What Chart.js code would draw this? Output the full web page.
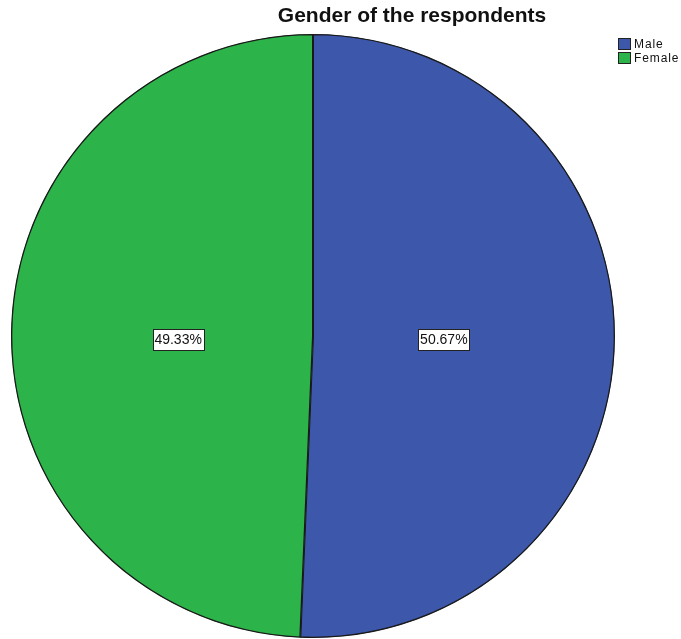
<!DOCTYPE html>
<html>
<head>
<meta charset="utf-8">
<script src="https://cdn.jsdelivr.net/npm/chart.js@4.4.1/dist/chart.umd.min.js"></script>
<style>
html,body{margin:0;padding:0;background:#fff;}
#wrap{position:relative;width:681px;height:639px;}
#title{position:absolute;left:0;top:3px;width:824px;text-align:center;font:bold 21px "Liberation Sans",Arial,sans-serif;color:#111;}
#legend{position:absolute;left:618px;top:37px;font:12px "Liberation Sans",Arial,sans-serif;letter-spacing:0.9px;color:#111;}
.item{display:flex;align-items:center;height:14px;}
.sw{width:11px;height:10px;border:1px solid #222;margin-right:3px;}
</style>
</head>
<body>
<div id="wrap">
<canvas id="c" width="681" height="639"></canvas>
<div id="title"></div>
<div id="legend"></div>
</div>
<script>
const titleText = "Gender of the respondents";
const categories = ["Male", "Female"];
const values = [50.67, 49.33];
const colors = ["#3d58ab", "#2cb34a"];

document.getElementById('title').textContent = titleText;
const leg = document.getElementById('legend');
categories.forEach((c, i) => {
  const d = document.createElement('div'); d.className = 'item';
  const s = document.createElement('div'); s.className = 'sw'; s.style.background = colors[i];
  const t = document.createElement('span'); t.textContent = c;
  d.appendChild(s); d.appendChild(t); leg.appendChild(d);
});

const labelPlugin = {
  id: 'pctLabels',
  afterDatasetsDraw(chart) {
    const ctx = chart.ctx;
    const meta = chart.getDatasetMeta(0);
    ctx.save();
    ctx.font = '14px "Liberation Sans", Arial, sans-serif';
    ctx.textAlign = 'center';
    ctx.textBaseline = 'middle';
    meta.data.forEach((arc, i) => {
      const p = arc.getProps(['x','y','startAngle','endAngle','outerRadius'], true);
      const mid = (p.startAngle + p.endAngle) / 2;
      const r = p.outerRadius * 0.44;
      const x = p.x + Math.cos(mid) * r - 2;
      const y = p.y + 3;
      const txt = chart.data.datasets[0].data[i].toFixed(2) + '%';
      const w = Math.round(ctx.measureText(txt).width + 4);
      const h = 21;
      const bx = Math.round(x - w/2) + 0.5, by = Math.round(y - h/2) + 0.5;
      ctx.fillStyle = '#fff';
      ctx.fillRect(bx, by, w, h);
      ctx.strokeStyle = '#222';
      ctx.lineWidth = 1;
      ctx.strokeRect(bx, by, w, h);
      ctx.fillStyle = '#111';
      ctx.fillText(txt, x, y + 1);
    });
    ctx.restore();
  }
};

new Chart(document.getElementById('c'), {
  type: 'pie',
  data: {
    labels: categories,
    datasets: [{
      data: values,
      backgroundColor: colors,
      borderColor: '#1a1a1a',
      borderWidth: 1,
      borderAlign: 'inner'
    }]
  },
  options: {
    responsive: false,
    animation: false,
    layout: { padding: { left: 11, right: 66, top: 34, bottom: 1 } },
    plugins: { legend: { display: false }, title: { display: false }, tooltip: { enabled: false } }
  },
  plugins: [labelPlugin]
});
</script>
</body>
</html>
